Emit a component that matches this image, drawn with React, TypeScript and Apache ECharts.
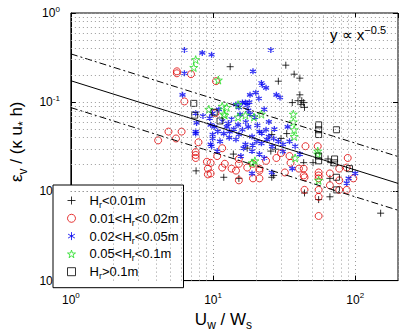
import React, { useEffect, useRef } from "react";
import * as echarts from "echarts";

// ---- data ([Uw/Ws, eps_v/(k u* h)]) ----
const hrLt001: number[][] = [
  [7.6, 0.017], [13.2, 0.25], [32.5, 0.26], [37.2, 0.206], [40.8, 0.186], [28.8, 0.172],
  [40.8, 0.121], [42.1, 0.104], [43.4, 0.099], [39.6, 0.104], [44, 0.0875], [36.1, 0.099],
  [41.5, 0.094], [33, 0.0445], [64.4, 0.0231], [67.3, 0.021], [43.4, 0.021], [50.5, 0.021],
  [66.4, 0.014], [44, 0.0096], [55.3, 0.0081], [66.4, 0.0087], [151, 0.0057], [25.9, 0.0434],
  [30.1, 0.0392], [17.4, 0.0305], [25.5, 0.0283], [13.9, 0.0262], [27.5, 0.0297], [11.9, 0.0144],
  [26.7, 0.0151], [15.2, 0.014], [25.9, 0.0144],
];
const hr001to002: number[][] = [
  [5.57, 0.222], [5.57, 0.211], [7.0, 0.206], [6.29, 0.102], [4.11, 0.0373], [4.86, 0.0468],
  [5.49, 0.0392], [6.01, 0.0468], [7.9, 0.0355], [7.55, 0.0276], [7.55, 0.0256], [7.55, 0.0237],
  [9.06, 0.0215], [9.2, 0.018], [9.2, 0.0155], [10.5, 0.172], [10.4, 0.0753], [11.6, 0.0305],
  [10.7, 0.0249], [12.1, 0.0204], [15.2, 0.0231], [15.2, 0.0204], [14.5, 0.0171], [17.4, 0.0185],
  [21.2, 0.0171], [23.6, 0.022], [27.9, 0.0237], [30.1, 0.0269], [32, 0.0163], [9.62, 0.0209],
  [9.62, 0.0159], [19.1, 0.0204], [34.5, 0.0249], [11.6, 0.0185], [13.5, 0.018], [15.2, 0.0133],
  [21.2, 0.014], [19.1, 0.014], [55.3, 0.0163], [55.3, 0.0151], [43.4, 0.0151], [21.2, 0.018],
  [43.4, 0.018], [77.2, 0.018], [44.7, 0.0321], [54.5, 0.0321], [88.6, 0.0237], [87.2, 0.0185],
  [55.3, 0.014], [66.4, 0.0159], [35.1, 0.0209], [40.2, 0.018], [97, 0.014], [44, 0.0144],
  [66.4, 0.0117], [77.2, 0.0133], [77.2, 0.0104], [87.2, 0.0104], [44, 0.0104], [55.3, 0.0104],
  [55.3, 0.0087], [55.3, 0.0053],
];
const hr002to005: number[][] = [
  [6.29, 0.385], [8.4, 0.357], [9.77, 0.34], [6.29, 0.211], [6.1, 0.121], [7.55, 0.0753],
  [7.66, 0.0586], [9.48, 0.0664], [9.62, 0.0557], [7.55, 0.0468], [7.55, 0.0445], [9.77, 0.0321],
  [25.5, 0.385], [19.1, 0.222], [22.2, 0.156], [23.6, 0.145], [21.9, 0.164], [20, 0.128],
  [18.2, 0.121], [27.9, 0.121], [29.6, 0.113], [15.2, 0.0875], [16.9, 0.099], [14.5, 0.094],
  [16.1, 0.099], [17.4, 0.092], [17.7, 0.081], [18.2, 0.0734], [10.2, 0.053], [9.93, 0.0434],
  [9.93, 0.0392], [9.62, 0.0337], [13.5, 0.0648], [15, 0.0557], [17.7, 0.053], [16.1, 0.0491],
  [13.1, 0.0468], [11.9, 0.0445], [15.2, 0.0434], [18.8, 0.0412], [21.2, 0.0468], [23.6, 0.0491],
  [20.3, 0.0364], [21.9, 0.0346], [26.7, 0.0392], [28.8, 0.0364], [31, 0.0337], [34.5, 0.0364],
  [14.5, 0.0382], [16.9, 0.0337], [16.4, 0.0305], [18.8, 0.0283], [25.9, 0.0163], [18.8, 0.0159],
  [21.2, 0.0262], [22.9, 0.0237], [36.1, 0.018], [40.8, 0.0262], [100, 0.0159], [89.9, 0.014],
  [87.2, 0.0124], [11.6, 0.0616], [12.5, 0.053], [19.7, 0.0681], [24.7, 0.0601], [22.9, 0.0832],
  [11.2, 0.0364], [33.5, 0.053], [37.8, 0.0321], [10.7, 0.0283], [15.7, 0.0249], [24.7, 0.0412],
  [11, 0.083], [12.8, 0.058], [14, 0.05], [17, 0.06], [20.5, 0.055], [22, 0.045], [24, 0.038],
  [26, 0.032], [19, 0.033], [13, 0.04], [10.8, 0.047], [15.5, 0.073], [18, 0.1], [21, 0.11],
  [31, 0.028], [27, 0.05], [9.9, 0.075], [8.5, 0.07],
];
const hr005to01: number[][] = [
  [7.55, 0.3], [7.32, 0.245], [10.9, 0.177], [11.6, 0.09], [12.5, 0.0875], [15, 0.094],
  [11.9, 0.0734], [12.1, 0.0716], [15, 0.0681], [16.9, 0.0716], [19.4, 0.0681], [21.9, 0.0734],
  [36.7, 0.0734], [36.7, 0.0601], [37.2, 0.0491], [37.2, 0.0412], [54.5, 0.0283], [54.5, 0.0262],
  [37.8, 0.0237], [18.8, 0.0209], [19.7, 0.022], [55.3, 0.0133], [9.34, 0.0832],
];
const hrGt01: number[][] = [
  [7.32, 0.097], [7.43, 0.0716], [11.2, 0.0616], [10.2, 0.0772], [55.3, 0.0557], [55.3, 0.0491],
  [55.3, 0.0434], [73.8, 0.0491], [55.3, 0.0249], [55.3, 0.022], [71.6, 0.0231], [71.6, 0.0209],
  [91.2, 0.018], [73.8, 0.0144], [73.8, 0.0104],
];
// fitted power law y ~ x^-0.5 (end points) and the two dash-dot bounds
const fitLine: number[][] = [[1, 0.174], [200, 0.0123]];
const upperLine: number[][] = [[1, 0.348], [200, 0.0246]];
const lowerLine: number[][] = [[1, 0.087], [200, 0.00615]];

const xMinorGrid = [2, 3, 4, 5, 6, 7, 8, 9, 20, 30, 40, 50, 60, 70, 80, 90];
const yMinorGrid = [
  0.002, 0.003, 0.004, 0.005, 0.006, 0.007, 0.008, 0.009,
  0.02, 0.03, 0.04, 0.05, 0.06, 0.07, 0.08, 0.09,
  0.2, 0.3, 0.4, 0.5, 0.6, 0.7, 0.8, 0.9,
];

const seriesNames = ["Hr<0.01m", "0.01<Hr<0.02m", "0.02<Hr<0.05m", "0.05<Hr<0.1m", "Hr>0.1m"];
const legendRich: Record<string, string> = {
  "Hr<0.01m": "{g| }{t|H}{s|r}{t|<0.01m}",
  "0.01<Hr<0.02m": "{g| }{t|0.01<H}{s|r}{t|<0.02m}",
  "0.02<Hr<0.05m": "{g| }{t|0.02<H}{s|r}{t|<0.05m}",
  "0.05<Hr<0.1m": "{g| }{t|0.05<H}{s|r}{t|<0.1m}",
  "Hr>0.1m": "{g| }{t|H}{s|r}{t|>0.1m}",
};

const FONT = "'Liberation Sans', Arial, Helvetica, sans-serif";
const PLUS = "path://M0,5L10,5M5,0L5,10";
const ASTER = "path://M5,0L5,10M0.7,2.5L9.3,7.5M0.7,7.5L9.3,2.5";
const STAR =
  "path://M10,0L12.25,6.91L19.51,6.91L13.63,11.18L15.88,18.09L10,13.82L4.12,18.09L6.37,11.18L0.49,6.91L7.75,6.91Z";

const powFmt = (v: number) => {
  const l = Math.log10(v);
  const r = Math.round(l);
  if (Math.abs(l - r) > 0.01) return "";
  return "{b|10}{e|" + r + "}";
};
const powRich = {
  b: { fontSize: 12, lineHeight: 16, fontFamily: FONT, color: "#000" },
  e: { fontSize: 8, lineHeight: 8, verticalAlign: "top", fontFamily: FONT, color: "#000" },
};

export default function App() {
  const ref = useRef<HTMLDivElement>(null);
  useEffect(() => {
    if (!ref.current) return;
    const chart = echarts.init(ref.current, null, { renderer: "svg" });
    const gridLine = { type: [1, 3], color: "#9a9a9a", width: 1 };
    const scatterBase = { type: "scatter", z: 3 };
    const tickOnly = {
      axisLine: { show: false },
      axisTick: { inside: true, length: 5, lineStyle: { color: "#000" } },
      axisLabel: { show: false },
      splitLine: { show: false },
    };
    const option: any = {
      animation: false,
      backgroundColor: "#fff",
      textStyle: { fontFamily: FONT },
      grid: {
        left: 49, right: 2, top: 13, bottom: 48,
        show: true, borderColor: "#000", borderWidth: 1,
      },
      xAxis: [
        {
          type: "log", logBase: 10, min: 1, max: 200,
          axisLine: { lineStyle: { color: "#000", width: 1 } },
          axisTick: { inside: true, length: 5, lineStyle: { color: "#000" } },
          axisLabel: { formatter: powFmt, rich: powRich, margin: 11, showMaxLabel: false },
          splitLine: { show: true, lineStyle: gridLine },
          name: "{m|U}{s|w}{m| / W}{s|s}",
          nameLocation: "middle",
          nameGap: 21,
          nameTextStyle: {
            padding: [0, 22, 0, 0],
            rich: {
              m: { fontSize: 17, lineHeight: 24, fontFamily: FONT, color: "#000" },
              s: { fontSize: 12, lineHeight: 12, verticalAlign: "bottom", fontFamily: FONT, color: "#000" },
            },
          },
        },
        { type: "log", logBase: 10, min: 1, max: 200, position: "top", ...tickOnly },
      ],
      yAxis: [
        {
          type: "log", logBase: 10, min: 0.001, max: 1,
          axisLine: { lineStyle: { color: "#000", width: 1 } },
          axisTick: { inside: true, length: 5, lineStyle: { color: "#000" } },
          axisLabel: { formatter: powFmt, rich: powRich, margin: 11 },
          splitLine: { show: true, lineStyle: gridLine },
          name: "{m|ε}{s|v}{m| / (κ u}{s|*}{m| h)}",
          nameLocation: "middle",
          nameRotate: 90,
          nameGap: 24,
          nameTextStyle: {
            padding: [0, 0, 0, 10],
            rich: {
              m: { fontSize: 17, lineHeight: 24, fontFamily: FONT, color: "#000" },
              s: { fontSize: 12, lineHeight: 12, verticalAlign: "bottom", fontFamily: FONT, color: "#000" },
            },
          },
        },
        { type: "log", logBase: 10, min: 0.001, max: 1, position: "right", ...tickOnly },
      ],
      legend: {
        data: seriesNames,
        orient: "vertical",
        left: 53, top: 185,
        padding: [9, 5, 7, 14],
        itemGap: 2.3,
        itemWidth: 8, itemHeight: 8,
        backgroundColor: "#fff",
        borderColor: "#000", borderWidth: 1,
        itemStyle: { borderWidth: 1 },
        formatter: (n: string) => legendRich[n] || n,
        textStyle: {
          rich: {
            g: { width: 9, fontSize: 13, lineHeight: 18 },
            t: { fontSize: 13, lineHeight: 18, fontFamily: FONT, color: "#000" },
            s: { fontSize: 9, lineHeight: 9, verticalAlign: "bottom", fontFamily: FONT, color: "#000" },
          },
        },
      },
      graphic: [
        {
          type: "text",
          left: 330, top: 24,
          style: {
            text: "{m|y ∝ x}{p|−0.5}",
            rich: {
              m: { fontSize: 15, lineHeight: 20, fontFamily: FONT, fill: "#000" },
              p: { fontSize: 11, lineHeight: 11, verticalAlign: "top", fontFamily: FONT, fill: "#000" },
            },
          },
          z: 10,
        },
      ],
      series: [
        {
          type: "line", name: "grid", data: [], z: 1, silent: true,
          markLine: {
            silent: true, symbol: ["none", "none"], label: { show: false },
            lineStyle: gridLine, animation: false,
            data: [
              ...xMinorGrid.map((v) => ({ xAxis: v })),
              ...yMinorGrid.map((v) => ({ yAxis: v })),
            ],
          },
        },
        {
          ...scatterBase, name: seriesNames[0], data: hrLt001, symbol: PLUS, symbolSize: 7,
          itemStyle: { color: "transparent", borderColor: "#000", borderWidth: 1 },
        },
        {
          ...scatterBase, name: seriesNames[1], data: hr001to002, symbol: "circle", symbolSize: 7,
          itemStyle: { color: "transparent", borderColor: "#e00000", borderWidth: 1 },
        },
        {
          ...scatterBase, name: seriesNames[2], data: hr002to005, symbol: ASTER, symbolSize: 6,
          itemStyle: { color: "transparent", borderColor: "#0000f0", borderWidth: 1.3 },
        },
        {
          ...scatterBase, name: seriesNames[3], data: hr005to01, symbol: STAR, symbolSize: 8,
          itemStyle: { color: "transparent", borderColor: "#22dd22", borderWidth: 1 },
        },
        {
          ...scatterBase, name: seriesNames[4], data: hrGt01, symbol: "rect", symbolSize: 6,
          itemStyle: { color: "transparent", borderColor: "#000", borderWidth: 1 },
        },
        {
          type: "line", name: "fit", data: fitLine, symbol: "none", z: 4,
          lineStyle: { color: "#000", width: 1 },
        },
        {
          type: "line", name: "upper", data: upperLine, symbol: "none", z: 4,
          lineStyle: { color: "#000", width: 1, type: [7, 3, 2, 3] },
        },
        {
          type: "line", name: "lower", data: lowerLine, symbol: "none", z: 4,
          lineStyle: { color: "#000", width: 1, type: [7, 3, 2, 3] },
        },
      ],
    };
    chart.setOption(option);
    return () => chart.dispose();
  }, []);
  return <div ref={ref} style={{ width: 400, height: 336, position: "absolute", left: 0, top: 0 }} />;
}
